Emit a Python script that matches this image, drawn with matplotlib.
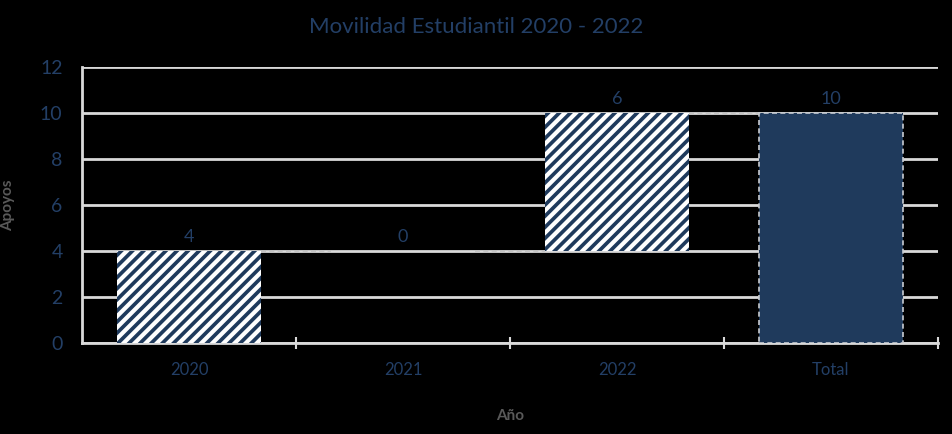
import matplotlib.pyplot as plt
import matplotlib as mpl

# Data
categories = ["2020", "2021", "2022", "Total"]
changes = [4, 0, 6]
total = [10]

navy = "#1f3a5c"
text_col = "#233f66"
grid_col = "#d9d9d9"
gray_lbl = "#595959"

mpl.rcParams['hatch.color'] = 'white'
mpl.rcParams['hatch.linewidth'] = 3.0
plt.rcParams['font.family'] = ['Lato', 'DejaVu Sans']

fig = plt.figure(figsize=(9.52, 4.34), dpi=100, facecolor='black')
ax = fig.add_axes([82 / 952, 1 - 343 / 434, 856 / 952, 276 / 434])
ax.set_facecolor('black')

# waterfall bases
bases = []
running = 0
for c in changes:
    bases.append(running)
    running += c
values = changes + total
bases = bases + [0]
tops = [b + v for b, v in zip(bases, values)]
x = list(range(len(categories)))
width = 0.67

for i, (b, v) in enumerate(zip(bases, values)):
    if i < len(changes):
        ax.bar(i, v, width, bottom=b, color=navy, hatch='///',
               edgecolor='white', linewidth=0, zorder=3)
    else:
        ax.bar(i, v, width, bottom=b, color=navy, edgecolor='#c8ccd2',
               linewidth=1.2, linestyle=(0, (3, 2)), zorder=3)
    ax.text(i, tops[i] + 0.25, str(v), ha='center', va='bottom',
            fontsize=13, color=text_col, zorder=4)

# connectors
for i in range(len(categories) - 1):
    ax.plot([i + width / 2, i + 1 - width / 2], [tops[i], tops[i]],
            color='#bfbfbf', linestyle=(0, (3, 2)), linewidth=1.2, zorder=2)

ax.set_xlim(-0.5, len(categories) - 0.5)
ax.set_ylim(0, 12)
ax.set_yticks(range(0, 13, 2))
ax.yaxis.grid(True, color=grid_col, linewidth=2, zorder=0)
ax.set_axisbelow(True)

ax.set_xticks(x)
ax.set_xticklabels(categories)
ax.set_xticks([i + 0.5 for i in range(len(categories))], minor=True)
ax.tick_params(axis='x', which='major', length=0, pad=14, labelsize=12, labelcolor=text_col)
ax.tick_params(axis='x', which='minor', length=8, width=1.5, color=grid_col, direction='inout')
ax.tick_params(axis='y', length=0, pad=14, labelsize=14, labelcolor=text_col)

for s in ['top', 'right']:
    ax.spines[s].set_visible(False)
ax.spines['left'].set_color(grid_col)
ax.spines['left'].set_linewidth(2)
ax.spines['bottom'].set_color(grid_col)
ax.spines['bottom'].set_linewidth(2)

ax.set_xlabel("Año", fontsize=11, color=gray_lbl, fontweight='bold', labelpad=22)
ax.set_ylabel("Apoyos", fontsize=11, color=gray_lbl, fontweight='bold', labelpad=18)
fig.suptitle("Movilidad Estudiantil 2020 - 2022", y=1 - 27 / 434, va='center',
             fontsize=16, color=text_col)

fig.savefig("out.png", dpi=100, facecolor='black')
